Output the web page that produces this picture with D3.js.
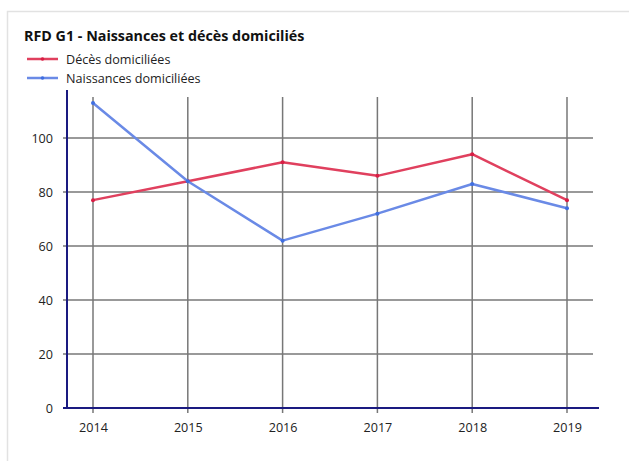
<!DOCTYPE html>
<html><head><meta charset="utf-8">
<script src="https://cdn.jsdelivr.net/npm/d3@7"></script>
<style>
body{margin:0;background:#fff;font-family:"Open Sans","Noto Sans",sans-serif;}
</style></head>
<body>
<svg id="c" width="629" height="461"></svg>
<script>
const years = ["2014","2015","2016","2017","2018","2019"];
const deces = [77, 84, 91, 86, 94, 77];
const naissances = [113, 84, 62, 72, 83, 74];
const yTicks = [0, 20, 40, 60, 80, 100];
const seriesNames = ["Décès domiciliées", "Naissances domiciliées"];
const colors = ["#e0405e", "#6a8ae6"];
const dotColors = ["#d81e45", "#3f6ee0"];

const svg = d3.select("#c");
svg.append("rect").attr("x",7.5).attr("y",11.5).attr("width",640).attr("height",480)
  .attr("fill","#fff").attr("stroke","#e2e2e2").attr("stroke-width",1.5);

svg.append("text").attr("x",24).attr("y",41).text("RFD G1 - Naissances et décès domiciliés")
  .attr("font-weight","bold").attr("font-size",14.3).attr("fill","#111");

const x = d3.scalePoint().domain(years).range([93, 567]);
const y = d3.scaleLinear().domain([0, 117.8]).range([408, 90]);

// gridlines
const g = svg.append("g");
g.selectAll(".hg").data(yTicks).join("line")
  .attr("x1",63).attr("x2",593).attr("y1",d=>y(d)).attr("y2",d=>y(d))
  .attr("stroke","#777").attr("stroke-width",1.5);
g.selectAll(".vg").data(years).join("line")
  .attr("x1",d=>x(d)).attr("x2",d=>x(d)).attr("y1",97).attr("y2",413)
  .attr("stroke","#777").attr("stroke-width",1.5);

// axes
const ya = svg.append("g").attr("transform","translate(67,0)")
  .call(d3.axisLeft(y).tickValues(yTicks).tickSize(0).tickPadding(14).tickFormat(d3.format("d")));
ya.select(".domain").remove();
ya.selectAll("text").attr("font-size",12.6).attr("fill","#222").attr("font-family","'Open Sans','Noto Sans',sans-serif");
const xa = svg.append("g").attr("transform","translate(0,408)")
  .call(d3.axisBottom(x).tickSize(0).tickPadding(15));
xa.select(".domain").remove();
xa.selectAll("text").attr("font-size",12.6).attr("fill","#222").attr("font-family","'Open Sans','Noto Sans',sans-serif");

svg.append("line").attr("x1",67).attr("x2",67).attr("y1",90).attr("y2",409)
  .attr("stroke","#1a1a80").attr("stroke-width",2);
svg.append("line").attr("x1",63).attr("x2",599).attr("y1",408).attr("y2",408)
  .attr("stroke","#1a1a80").attr("stroke-width",2);

// lines
const data = [deces, naissances];
const line = d3.line().x((d,i)=>x(years[i])).y(d=>y(d));
data.forEach((s,k)=>{
  svg.append("path").datum(s).attr("d",line).attr("fill","none")
    .attr("stroke",colors[k]).attr("stroke-width",2.5).attr("stroke-linejoin","round");
  svg.selectAll(".p"+k).data(s).join("circle")
    .attr("cx",(d,i)=>x(years[i])).attr("cy",d=>y(d)).attr("r",2).attr("fill",dotColors[k]);
});

// legend
seriesNames.forEach((n,k)=>{
  const ly = 59 + k*19;
  svg.append("line").attr("x1",27).attr("x2",58).attr("y1",ly).attr("y2",ly)
    .attr("stroke",colors[k]).attr("stroke-width",2.5);
  svg.append("circle").attr("cx",42.5).attr("cy",ly).attr("r",1.8).attr("fill",dotColors[k]);
  svg.append("text").attr("x",66).attr("y",ly+4.5).text(n).attr("font-size",12.6).attr("fill","#222");
});
</script>
</body></html>
